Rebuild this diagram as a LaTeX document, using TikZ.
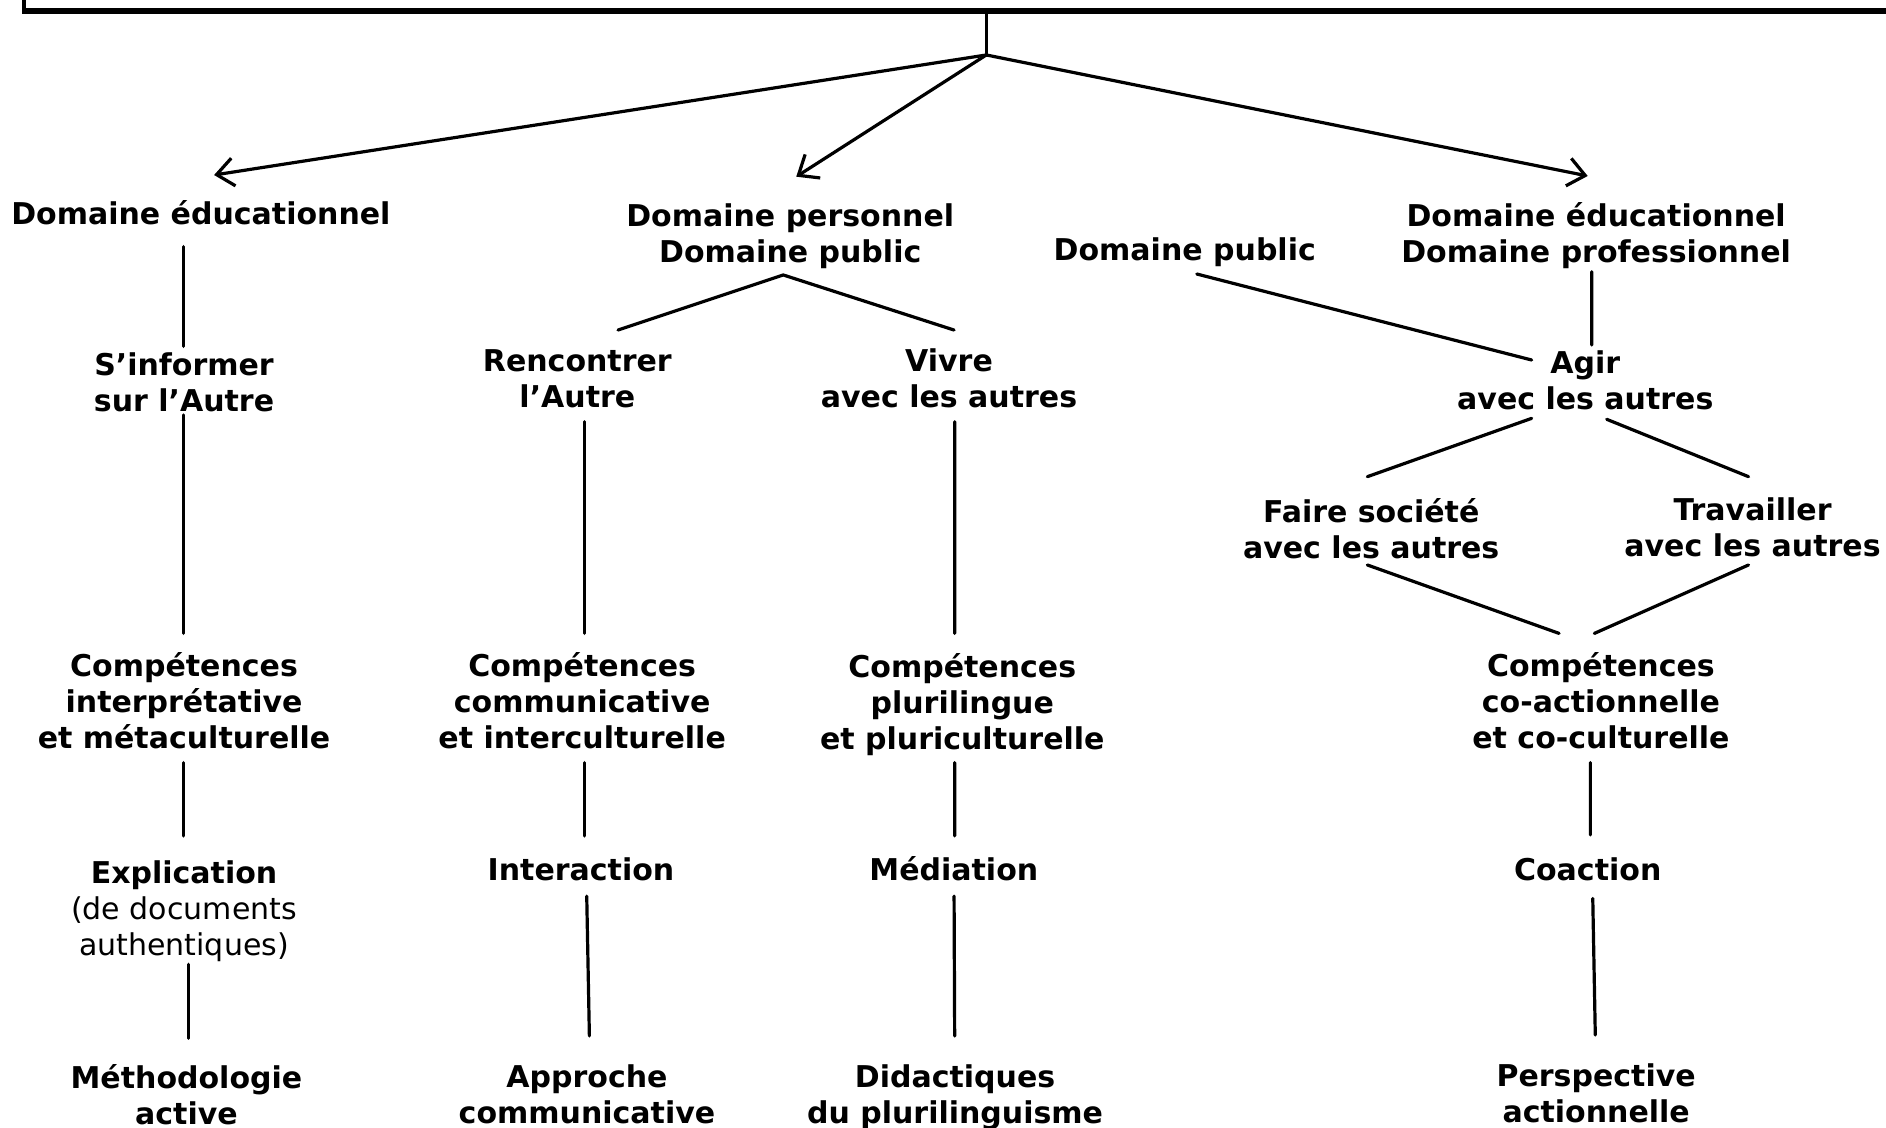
\documentclass[tikz,border=0pt]{standalone}
\usepackage{fontspec}
\setmainfont{DejaVu Sans}
\usetikzlibrary{arrows.meta,fit}
\begin{document}
\begin{tikzpicture}[x=1.2028pt,y=-1.2028pt,
  lab/.style={align=center,inner sep=0pt,
    font=\fontsize{30}{36}\selectfont\bfseries,
    execute at begin node=\strut, execute at end node=\strut},
  conn/.style={line width=3.2pt,line cap=round},
  arr/.style={conn,-{Straight Barb[length=17pt,width=28pt,line width=3.2pt]}}]
\useasboundingbox (0,0) rectangle (1568,937.8);
% top box
\coordinate (tl) at (20,-60);
\coordinate (br) at (1640,8.3);
\node[draw,line width=3.3pt,inner sep=0pt,fit=(tl)(br)] (top) {};
\draw[line width=4.4pt] (top.south west) -- (top.south east);
\coordinate (hub) at (820,45.7);
% nodes
\node[lab] (d1) at (167,180.3) {Domaine éducationnel};
\node[lab] (d2) at (657,198.2) {Domaine personnel\\Domaine public};
\node[lab] (d3) at (985,210.2) {Domaine public};
\node[lab] (d4) at (1327,197.7) {Domaine éducationnel\\Domaine professionnel};
\node[lab] (r1) at (153,321.9) {S’informer\\sur l’Autre};
\node[lab] (r2) at (480,319.6) {Rencontrer\\l’Autre};
\node[lab] (r3) at (789,319.1) {Vivre\\avec les autres};
\node[lab] (r4) at (1318,320.9) {Agir\\avec les autres};
\node[lab] (f1) at (1140,443.9) {Faire société\\avec les autres};
\node[lab] (f2) at (1457,442.9) {Travailler\\avec les autres};
\node[lab] (c1) at (153,586.7) {Compétences\\interprétative\\et métaculturelle};
\node[lab] (c2) at (484,586.7) {Compétences\\communicative\\et interculturelle};
\node[lab] (c3) at (800,588) {Compétences\\plurilingue\\et pluriculturelle};
\node[lab] (c4) at (1331,586.7) {Compétences\\co-actionnelle\\et co-culturelle};
\node[lab] (e1) at (153,759.2) {Explication\\{\mdseries (de documents}\\{\mdseries authentiques)}};
\node[lab] (e2) at (483,726.2) {Interaction};
\node[lab] (e3) at (793,726.2) {Médiation};
\node[lab] (e4) at (1320,726.2) {Coaction};
\node[lab] (m1) at (155,914.5) {Méthodologie\\active};
\node[lab] (m2) at (488,914.5) {Approche\\communicative};
\node[lab] (m3) at (794,914.5) {Didactiques\\du plurilinguisme};
\node[lab] (m4) at (1327,913) {Perspective\\actionnelle};
% stem and arrows
\draw[conn] (top.south -| hub) -- (hub);
\draw[arr] (hub) -- ([shift={(11,-34.8)}]d1.center);
\draw[arr] (hub) -- ([shift={(5,-51.3)}]d2.center);
\draw[arr] (hub) -- ([shift={(-7,-51.4)}]d4.center);
% column 1
\draw[conn] ([shift={(-14.3,24.7)}]d1.center) -- ([shift={(-0.3,-33.9)}]r1.center);
\draw[conn] ([shift={(-0.3,23.1)}]r1.center) -- ([shift={(-0.3,-60.1)}]c1.center);
\draw[conn] ([shift={(-0.3,47.3)}]c1.center) -- ([shift={(-0.3,-64.2)}]e1.center);
\draw[conn] ([shift={(3.4,42.5)}]e1.center) -- ([shift={(1.4,-51.3)}]m1.center);
% columns 2 and 3
\draw[conn,line join=round] ([shift={(33.8,-45.2)}]r2.center) -- ([shift={(-5.8,30.4)}]d2.center) -- ([shift={(4.2,-44.7)}]r3.center);
\draw[conn] ([shift={(5.7,31)}]r2.center) -- ([shift={(1.7,-60.1)}]c2.center);
\draw[conn] ([shift={(1.7,47.3)}]c2.center) -- ([shift={(2.7,-31.2)}]e2.center);
\draw[conn] ([shift={(4.8,18.8)}]e2.center) -- ([shift={(2,-53.2)}]m2.center);
\draw[conn] ([shift={(4.7,31.5)}]r3.center) -- ([shift={(-6.3,-61.4)}]c3.center);
\draw[conn] ([shift={(-6.3,46)}]c3.center) -- ([shift={(0.7,-31.2)}]e3.center);
\draw[conn] ([shift={(0.2,18.8)}]e3.center) -- ([shift={(-0.3,-53.2)}]m3.center);
% right part
\draw[conn] ([shift={(10,17.6)}]d3.center) -- ([shift={(-44.6,-21.6)}]r4.center);
\draw[conn] ([shift={(-3.6,28.2)}]d4.center) -- ([shift={(5.4,-34.1)}]r4.center);
\draw[conn] ([shift={(-44.6,26.9)}]r4.center) -- ([shift={(-3.2,-47.6)}]f1.center);
\draw[conn] ([shift={(17.8,27.7)}]r4.center) -- ([shift={(-3.3,-46.6)}]f2.center);
\draw[conn] ([shift={(-3.2,25.8)}]f1.center) -- ([shift={(-34.8,-60.1)}]c4.center);
\draw[conn] ([shift={(-3.3,26.8)}]f2.center) -- ([shift={(-5.5,-60.1)}]c4.center);
\draw[conn] ([shift={(-8.8,47.3)}]c4.center) -- ([shift={(2.2,-32)}]e4.center);
\draw[conn] ([shift={(4.2,20.7)}]e4.center) -- ([shift={(-0.7,-52.5)}]m4.center);
\end{tikzpicture}
\end{document}
